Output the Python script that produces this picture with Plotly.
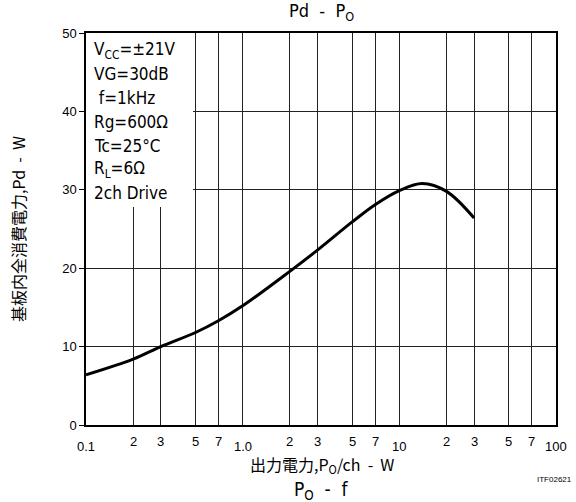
import math
import plotly.graph_objects as go

# Data
po = [0.1, 0.2, 0.3, 0.5, 0.7, 1.0, 2.0, 3.0, 5.0, 7.0, 10.0, 14.0, 20.0, 30.0]
pd_w = [6.4, 8.4, 10.0, 11.8, 13.3, 15.2, 19.6, 22.3, 25.9, 28.1, 29.9, 30.8, 29.8, 26.4]

x_grid = [0.1, 0.2, 0.3, 0.5, 0.7, 1, 2, 3, 5, 7, 10, 20, 30, 50, 70, 100]
x_minor_vals = [0.2, 0.3, 0.5, 0.7, 2, 3, 5, 7, 20, 30, 50, 70]
x_minor_text = ["2", "3", "5", "7", "2", "3", "5", "7", "2", "3", "5", "7"]
x_major_vals = [0.1, 1, 10, 100]
x_major_text = ["0.1", "1.0", "10", "100"]
y_ticks = [0, 10, 20, 30, 40, 50]

cond_lines = ["V<sub>CC</sub>=±21V", "VG=30dB", " f=1kHz", "Rg=600Ω",
              "Tc=25°C", "R<sub>L</sub>=6Ω", "2ch Drive"]

NARROW = "Liberation Sans Narrow, Arial Narrow, DejaVu Sans Condensed, Liberation Sans, Arial"
SANS = "Liberation Sans, Arial, sans-serif"
CJK = "Noto Sans CJK JP, sans-serif"

W, H = 576, 502
L, R, T, B = 86, 20, 33, 77
pw = W - L - R
ph = H - T - B

def py(pix):
    """pixel y -> paper y"""
    return (H - B - pix) / ph

def px(pix):
    """pixel x -> paper x"""
    return (pix - L) / pw

fig = go.Figure()
fig.add_trace(go.Scatter(x=po, y=pd_w, mode="lines",
                         line=dict(color="black", width=3, shape="spline", smoothing=1.0),
                         hoverinfo="skip", showlegend=False))

fig.update_layout(
    width=W, height=H,
    margin=dict(l=L, r=R, t=T, b=B, autoexpand=False),
    paper_bgcolor="white", plot_bgcolor="white",
    showlegend=False,
    xaxis=dict(type="log", range=[-1, 2], tickvals=x_grid, showticklabels=False,
               showgrid=True, gridcolor="#222", gridwidth=1, automargin=False,
               showline=True, linecolor="black", linewidth=1.5, mirror=True,
               ticks="inside", ticklen=4, tickcolor="#222", zeroline=False),
    yaxis=dict(range=[0, 50], tickvals=y_ticks, showgrid=True, gridcolor="#222", gridwidth=1,
               showline=True, linecolor="black", linewidth=1.5, mirror=True, automargin=False,
               ticks="outside", ticklen=5, tickcolor="black",
               tickfont=dict(family=SANS, size=13, color="black"), zeroline=False),
)

# white condition box covering grid
fig.add_shape(type="rect", xref="paper", yref="paper",
              x0=0, x1=px(193), y0=py(207), y1=1,
              fillcolor="white", line=dict(width=0), layer="above")

anns = []
for v, t in zip(x_minor_vals, x_minor_text):
    anns.append(dict(x=math.log10(v), xref="x", y=py(441), yref="paper", text=t,
                     showarrow=False, font=dict(family=SANS, size=13, color="black"),
                     xanchor="center", yanchor="middle"))
for v, t in zip(x_major_vals, x_major_text):
    anns.append(dict(x=math.log10(v), xref="x", y=py(446), yref="paper", text=t,
                     showarrow=False, font=dict(family=SANS, size=13, color="black"),
                     xanchor="center", yanchor="middle"))

for i, t in enumerate(cond_lines):
    anns.append(dict(x=px(92), xref="paper", y=py(50 + i * 23.9), yref="paper", text=t,
                     showarrow=False, font=dict(family=NARROW, size=17, color="black"),
                     xanchor="left", yanchor="middle"))

anns.append(dict(x=px(321), xref="paper", y=py(12), yref="paper", text="Pd  -  P<sub>O</sub>",
                 showarrow=False, font=dict(family=NARROW, size=18, color="black"),
                 xanchor="center", yanchor="middle"))
anns.append(dict(x=px(18), xref="paper", y=py(229), yref="paper",
                 text="基板内全消費電力,Pd  -  W", textangle=-90,
                 showarrow=False, font=dict(family=CJK, size=16, color="black"),
                 xanchor="center", yanchor="middle"))
anns.append(dict(x=px(322), xref="paper", y=py(464), yref="paper",
                 text="出力電力,P<sub>O</sub>/ch  -  W",
                 showarrow=False, font=dict(family=CJK, size=16, color="black"),
                 xanchor="center", yanchor="middle"))
anns.append(dict(x=px(554), xref="paper", y=py(479), yref="paper",
                 text="ITF02621", showarrow=False,
                 font=dict(family=SANS, size=8, color="black"),
                 xanchor="center", yanchor="middle"))
anns.append(dict(x=px(321), xref="paper", y=py(490), yref="paper", text="P<sub>O</sub>  -  f",
                 showarrow=False, font=dict(family=NARROW, size=19, color="black"),
                 xanchor="center", yanchor="middle"))
anns.append(dict(x=px(68), xref="paper", y=py(507), yref="paper", text="50",
                 showarrow=False, font=dict(family=SANS, size=13, color="black"),
                 xanchor="center", yanchor="middle"))

fig.update_layout(annotations=anns)
fig.write_html("out.html", config={"displayModeBar": False},
               post_script="document.body.style.margin='0';document.body.style.overflow='hidden';")
